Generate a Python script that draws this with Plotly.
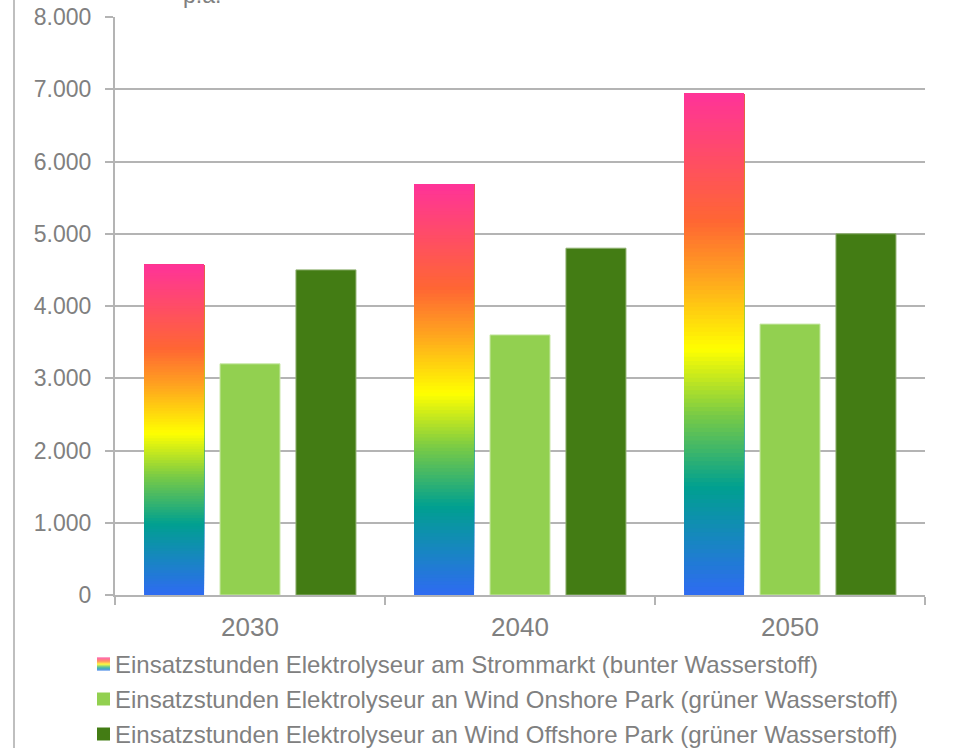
import plotly.graph_objects as go

# data
years = ["2030", "2040", "2050"]
strommarkt = [4570, 5690, 6940]
onshore = [3200, 3600, 3750]
offshore = [4500, 4800, 5000]

names = [
    "Einsatzstunden Elektrolyseur am Strommarkt (bunter Wasserstoff)",
    "Einsatzstunden Elektrolyseur an Wind Onshore Park (grüner Wasserstoff)",
    "Einsatzstunden Elektrolyseur an Wind Offshore Park (grüner Wasserstoff)",
]

# rainbow gradient used for the "bunter Wasserstoff" bars (bottom -> top)
rainbow = [
    (0.0, "#2F6BF2"),
    (0.215, "#00A090"),
    (0.36, "#7ACB45"),
    (0.49, "#FFFF00"),
    (0.64, "#FFA020"),
    (0.745, "#FF6633"),
    (1.0, "#FF3399"),
]

GREY = "#808080"
GRID = "#B4B4B4"
FONT = "Liberation Sans, Arial, sans-serif"


def hex2rgb(h):
    h = h.lstrip("#")
    return [int(h[i:i + 2], 16) for i in (0, 2, 4)]


def grad_color(t):
    for (p0, c0), (p1, c1) in zip(rainbow[:-1], rainbow[1:]):
        if t <= p1:
            f = (t - p0) / (p1 - p0)
            a, b = hex2rgb(c0), hex2rgb(c1)
            r = [round(a[i] + (b[i] - a[i]) * f) for i in range(3)]
            return "rgb(%d,%d,%d)" % tuple(r)
    return rainbow[-1][1]


# gradient bar = many bars sharing the same top, each starting a bit higher
N = 120
gx, gy, gbase, gcol = [], [], [], []
for yr, v in zip(years, strommarkt):
    for k in range(N):
        b = v * k / N
        gx.append(yr)
        gbase.append(b)
        gy.append(v - b)
        gcol.append(grad_color((k + 0.5) / N))

fig = go.Figure()
fig.add_trace(go.Bar(x=gx, y=gy, base=gbase, name=names[0],
                     marker=dict(color=gcol, line=dict(width=0)),
                     showlegend=False, hoverinfo="skip"))
fig.add_trace(go.Bar(x=years, y=onshore, name=names[1],
                     marker=dict(color="#92D050", line=dict(width=1, color="#C9E8A8")),
                     showlegend=False))
fig.add_trace(go.Bar(x=years, y=offshore, name=names[2],
                     marker=dict(color="#437C14", line=dict(width=1, color="#8FB070")),
                     showlegend=False))

# plot area in pixels: x 115..925, y 17..595
L, R, T, B = 115, 28, 17, 153
W, H = 953 - L - R, 748 - T - B


def px(x):
    return (x - L) / W


def py(y):
    return (T + H - y) / H


shapes = [dict(type="line", xref="paper", yref="paper",
               x0=px(14), x1=px(14), y0=py(748), y1=py(0),
               line=dict(color="#BFBFBF", width=2))]
annotations = [dict(text="p.a.", xref="paper", yref="paper",
                    x=px(202), y=py(10), xanchor="center", yanchor="bottom",
                    showarrow=False, font=dict(size=23, color=GREY, family=FONT))]

# hand-made legend
rows = [664, 699, 734]
for i, (name, yc) in enumerate(zip(names, rows)):
    annotations.append(dict(text=name, xref="paper", yref="paper",
                            x=px(113), y=py(yc), xanchor="left", yanchor="middle",
                            showarrow=False, font=dict(size=24, color=GREY, family=FONT)))
    if i == 0:
        steps = 13
        for k in range(steps):
            y0 = yc + 6.5 - k
            shapes.append(dict(type="rect", xref="paper", yref="paper",
                               x0=px(97), x1=px(110), y0=py(y0), y1=py(y0 - 1),
                               fillcolor=grad_color((k + 0.5) / steps),
                               line=dict(width=0)))
    else:
        col = "#92D050" if i == 1 else "#437C14"
        shapes.append(dict(type="rect", xref="paper", yref="paper",
                           x0=px(97), x1=px(110), y0=py(yc + 6.5), y1=py(yc - 6.5),
                           fillcolor=col, line=dict(width=0)))

fig.update_layout(
    width=953, height=748,
    margin=dict(l=L, r=R, t=T, b=B, autoexpand=False),
    template="none",
    paper_bgcolor="white", plot_bgcolor="white",
    barmode="group", bargap=0.156, bargroupgap=0.21,
    separators=",.",
    font=dict(family=FONT, color=GREY),
    shapes=shapes, annotations=annotations,
    showlegend=False,
)
fig.update_xaxes(type="category", tickson="boundaries", ticks="outside",
                 ticklen=8, tickwidth=2, tickcolor=GRID,
                 showline=True, linecolor=GRID, linewidth=2,
                 showgrid=False, automargin=False, ticklabelstandoff=8,
                 tickfont=dict(size=26, color=GREY, family=FONT))
fig.update_yaxes(range=[0, 8000], dtick=1000, tickformat=",",
                 ticks="outside", ticklen=8, tickwidth=2, tickcolor=GRID,
                 showline=True, linecolor=GRID, linewidth=2,
                 showgrid=True, gridcolor=GRID, gridwidth=2,
                 zeroline=False, automargin=False, ticklabelstandoff=9,
                 tickfont=dict(size=23, color=GREY, family=FONT))

# page body has an 8px margin by default; drop it so the chart fills the window
fig.write_html("out.html", config={"displayModeBar": False},
               post_script="document.body.style.margin='0';")
